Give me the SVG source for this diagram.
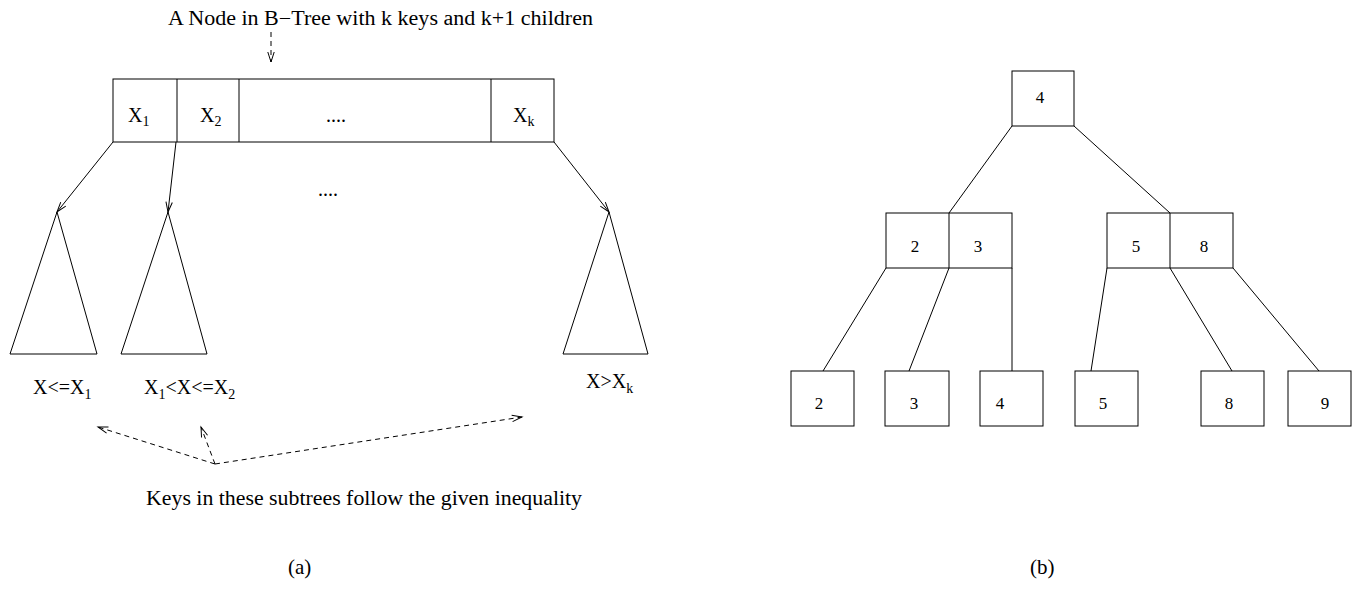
<svg xmlns="http://www.w3.org/2000/svg" width="1354" height="590" viewBox="0 0 1354 590">
<style>
.t{font-family:"Liberation Serif","Times New Roman",serif;font-size:20px;fill:#000}
.s{font-size:14px}
.n{font-family:"Liberation Serif","Times New Roman",serif;font-size:17px;fill:#000;text-anchor:middle}
.box{fill:none;stroke:#000;stroke-width:1}
.ln{fill:none;stroke:#000;stroke-width:1}
.dl{fill:none;stroke:#000;stroke-width:1;stroke-dasharray:5,4}
</style>
<defs>
<marker id="ah" markerUnits="userSpaceOnUse" markerWidth="14" markerHeight="10" viewBox="-12 -5 14 10" refX="0" refY="0" orient="auto">
<path d="M-10,-3.2 L0,0 L-10,3.2" fill="none" stroke="#000" stroke-width="1"/>
</marker>
</defs>
<rect width="1354" height="590" fill="#fff"/>

<g id="title">
<text class="t" x="168" y="25" textLength="425" lengthAdjust="spacingAndGlyphs">A Node in B−Tree with k keys and k+1 children</text>
</g>

<g id="bnode">
<rect class="box" x="113" y="79" width="441" height="63"/>
<line class="ln" x1="177" y1="79" x2="177" y2="142"/>
<line class="ln" x1="239" y1="79" x2="239" y2="142"/>
<line class="ln" x1="491" y1="79" x2="491" y2="142"/>
<text class="t" x="128" y="122">X<tspan class="s" dy="4">1</tspan></text>
<text class="t" x="200" y="122">X<tspan class="s" dy="4">2</tspan></text>
<text class="t" x="326" y="122">....</text>
<text class="t" x="513" y="122">X<tspan class="s" dy="4">k</tspan></text>
</g>

<g id="subtree1">
<polygon class="box" points="57,212 10,354 97,354"/>
<text class="t" x="33" y="394">X&lt;=X<tspan class="s" dy="5">1</tspan></text>
</g>
<g id="subtree2">
<polygon class="box" points="168,212 121,354 207,354"/>
<text class="t" x="144" y="394">X<tspan class="s" dy="5">1</tspan><tspan dy="-5">&lt;X&lt;=X</tspan><tspan class="s" dy="5">2</tspan></text>
</g>
<g id="subtreek">
<polygon class="box" points="609,212 563,354 648,354"/>
<text class="t" x="586" y="388">X&gt;X<tspan class="s" dy="5">k</tspan></text>
</g>
<g id="dots">
<text class="t" x="318" y="196">....</text>
</g>
<g id="caption">
<text class="t" x="146" y="505" textLength="436" lengthAdjust="spacingAndGlyphs">Keys in these subtrees follow the given inequality</text>
</g>
<g id="labels">
<text class="t" x="288" y="574" style="font-size:21px">(a)</text>
<text class="t" x="1030" y="574" style="font-size:21px">(b)</text>
</g>

<g id="connectors-a">
<line class="dl" x1="271" y1="32" x2="271" y2="62" marker-end="url(#ah)"/>
<line class="ln" x1="113" y1="142" x2="57" y2="212" marker-end="url(#ah)"/>
<line class="ln" x1="176" y1="142" x2="168" y2="212" marker-end="url(#ah)"/>
<line class="ln" x1="554" y1="142" x2="609" y2="212" marker-end="url(#ah)"/>
<line class="dl" x1="215" y1="464" x2="98" y2="427" marker-end="url(#ah)"/>
<line class="dl" x1="215" y1="464" x2="201" y2="427" marker-end="url(#ah)"/>
<line class="dl" x1="215" y1="464" x2="522" y2="417" marker-end="url(#ah)"/>
</g>

<g id="root">
<rect class="box" x="1012" y="71" width="62" height="55"/>
<text class="n" x="1040" y="103">4</text>
</g>
<g id="mid-left">
<rect class="box" x="886" y="213" width="126" height="55"/>
<line class="ln" x1="949" y1="213" x2="949" y2="268"/>
<text class="n" x="915" y="252">2</text>
<text class="n" x="978" y="252">3</text>
</g>
<g id="mid-right">
<rect class="box" x="1107" y="213" width="126" height="55"/>
<line class="ln" x1="1170" y1="213" x2="1170" y2="268"/>
<text class="n" x="1136" y="252">5</text>
<text class="n" x="1204" y="252">8</text>
</g>
<g id="leaf2">
<rect class="box" x="791" y="371" width="63" height="55"/>
<text class="n" x="819" y="409">2</text>
</g>
<g id="leaf3">
<rect class="box" x="885" y="371" width="64" height="55"/>
<text class="n" x="914" y="409">3</text>
</g>
<g id="leaf4">
<rect class="box" x="980" y="371" width="63" height="55"/>
<text class="n" x="1000" y="409">4</text>
</g>
<g id="leaf5">
<rect class="box" x="1075" y="371" width="63" height="55"/>
<text class="n" x="1103" y="409">5</text>
</g>
<g id="leaf8">
<rect class="box" x="1201" y="371" width="63" height="55"/>
<text class="n" x="1229" y="409">8</text>
</g>
<g id="leaf9">
<rect class="box" x="1288" y="371" width="63" height="55"/>
<text class="n" x="1325" y="409">9</text>
</g>

<g id="connectors-b">
<line class="ln" x1="1012" y1="126" x2="949" y2="213"/>
<line class="ln" x1="1074" y1="126" x2="1170" y2="213"/>
<line class="ln" x1="886" y1="268" x2="823" y2="371"/>
<line class="ln" x1="949" y1="268" x2="909" y2="371"/>
<line class="ln" x1="1012" y1="268" x2="1012" y2="371"/>
<line class="ln" x1="1107" y1="268" x2="1091" y2="371"/>
<line class="ln" x1="1170" y1="268" x2="1232" y2="371"/>
<line class="ln" x1="1233" y1="268" x2="1319" y2="371"/>
</g>
</svg>
